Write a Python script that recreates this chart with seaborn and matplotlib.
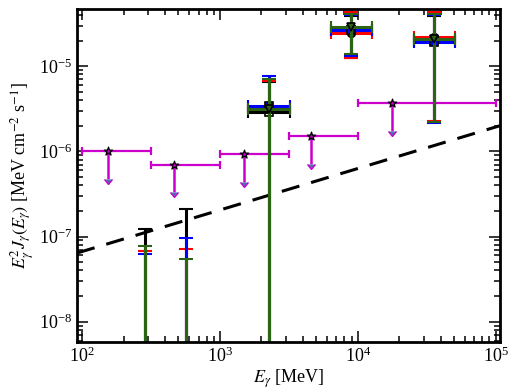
import numpy as np
import pandas as pd
import seaborn as sns
import matplotlib.pyplot as plt

# upper limits (magenta): bin edges, star positions, limit values
ul_x = [154, 464, 1490, 4560, 17600]
ul_lo = [100, 316, 1000, 3162, 10000]
ul_hi = [316, 1000, 3162, 10000, 100000]
ul_y = [1.0e-6, 7.0e-7, 9.2e-7, 1.5e-6, 3.7e-6]

# detections, four analyses on top of each other
det_x = [286, 567, 2265, 8900, 35600]
det_xlo = [np.nan, np.nan, 1600, 6370, 25500]
det_xhi = [np.nan, np.nan, 3210, 12630, 50400]

black_y = [3e-9, 3e-9, 2.88e-6, 2.64e-5, 2.02e-5]
black_up = [1.21e-7, 2.1e-7, 6.5e-6, 3.9e-5, 3.9e-5]
black_dn = [0, 0, 0, 1.24e-5, 2.2e-6]

red_y = [3e-9, 3e-9, 3.2e-6, 2.44e-5, 2.19e-5]
red_up = [6.7e-8, 7.2e-8, 6.8e-6, 4.3e-5, 4.3e-5]
red_dn = [0, 0, 0, 1.24e-5, 2.25e-6]

blue_y = [3e-9, 3e-9, 3.4e-6, 2.7e-5, 1.91e-5]
blue_up = [6.3e-8, 9.5e-8, 7.6e-6, 4.05e-5, 3.96e-5]
blue_dn = [0, 0, 0, 1.32e-5, 2.15e-6]

green_y = [3e-9, 3e-9, 3.13e-6, 2.87e-5, 2.07e-5]
green_up = [7.8e-8, 5.5e-8, 7.0e-6, 4.1e-5, 4.07e-5]
green_dn = [0, 0, 0, 1.38e-5, 2.2e-6]

# dashed power law, read at the two ends
line_x = [92, 1.07e5]
line_y = [6.4e-8, 2.0e-6]

BLACK = '#000000'
MAG = '#cc00cc'
RED = '#ff0000'
BLUE = '#0000ff'
GREEN = '#2a6414'

sns.set_theme(style="ticks", rc={'axes.edgecolor': BLACK, 'xtick.color': BLACK,
                                 'ytick.color': BLACK, 'axes.labelcolor': BLACK,
                                 'text.color': BLACK})
plt.rcParams['font.family'] = ['Liberation Serif', 'DejaVu Serif']
plt.rcParams['mathtext.fontset'] = 'stix'
plt.rcParams['xtick.direction'] = 'in'
plt.rcParams['ytick.direction'] = 'in'

fig = plt.figure(figsize=(5.1, 3.92), dpi=100)
ax = fig.add_axes([0.151, 0.128, 0.829, 0.849])

sns.lineplot(x=line_x, y=line_y, ax=ax, color=BLACK, lw=2.2)
ax.lines[-1].set_dashes((6, 4))

ul = pd.DataFrame({'x': ul_x, 'lo': ul_lo, 'hi': ul_hi, 'y': ul_y})
ax.errorbar(ul.x, ul.y, xerr=[ul.x - ul.lo, ul.hi - ul.x], fmt='none',
            ecolor=MAG, elinewidth=1.6, capsize=3, capthick=1.6)
ax.errorbar(ul.x, ul.y, yerr=ul.y * 0.53, uplims=True, fmt='none',
            ecolor=MAG, elinewidth=1.8, capsize=2.6)
sns.scatterplot(data=ul, x='x', y='y', ax=ax, marker='*', s=40,
                color=MAG, edgecolor=BLACK, linewidth=0.9, zorder=5)

series = [
    (BLACK, 's', 'none', black_y, black_up, black_dn),
    (RED, 'o', RED, red_y, red_up, red_dn),
    (BLUE, 's', BLUE, blue_y, blue_up, blue_dn),
    (GREEN, 'v', GREEN, green_y, green_up, green_dn),
]
xd = np.array(det_x, dtype=float)
for col, mk, fc, y, up, dn in series:
    y = np.array(y)
    lo = np.clip(np.array(dn), 1e-14, None)
    ax.errorbar(xd, y, yerr=[y - lo, np.array(up) - y], fmt='none',
                ecolor=col, elinewidth=2.2, capsize=4.8, capthick=1.5)
    ax.errorbar(xd, y, xerr=[xd - np.array(det_xlo), np.array(det_xhi) - xd],
                fmt='none', ecolor=col, elinewidth=2.2, capsize=4.5, capthick=1.5)
    ax.plot(xd, y, ls='none', marker=mk, ms=5.5, mfc=fc, mec=BLACK, mew=1.2)

ax.set_xscale('log')
ax.set_yscale('log')
ax.set_xlim(92, 1.07e5)
ax.set_ylim(5.8e-9, 4.7e-5)
ax.tick_params(which='both', top=True, right=True, labelsize=13, width=1.1)
ax.tick_params(which='major', length=8)
ax.tick_params(which='minor', length=4)
for s in ax.spines.values():
    s.set_linewidth(2)
ax.set_xlabel(r'$E_\gamma$ [MeV]', fontsize=13, labelpad=1)
ax.set_ylabel(r'$E_\gamma^2 J_\gamma(E_\gamma)$ [MeV cm$^{-2}$ s$^{-1}$]',
              fontsize=13, labelpad=2)

fig.savefig('out.png', dpi=100)
